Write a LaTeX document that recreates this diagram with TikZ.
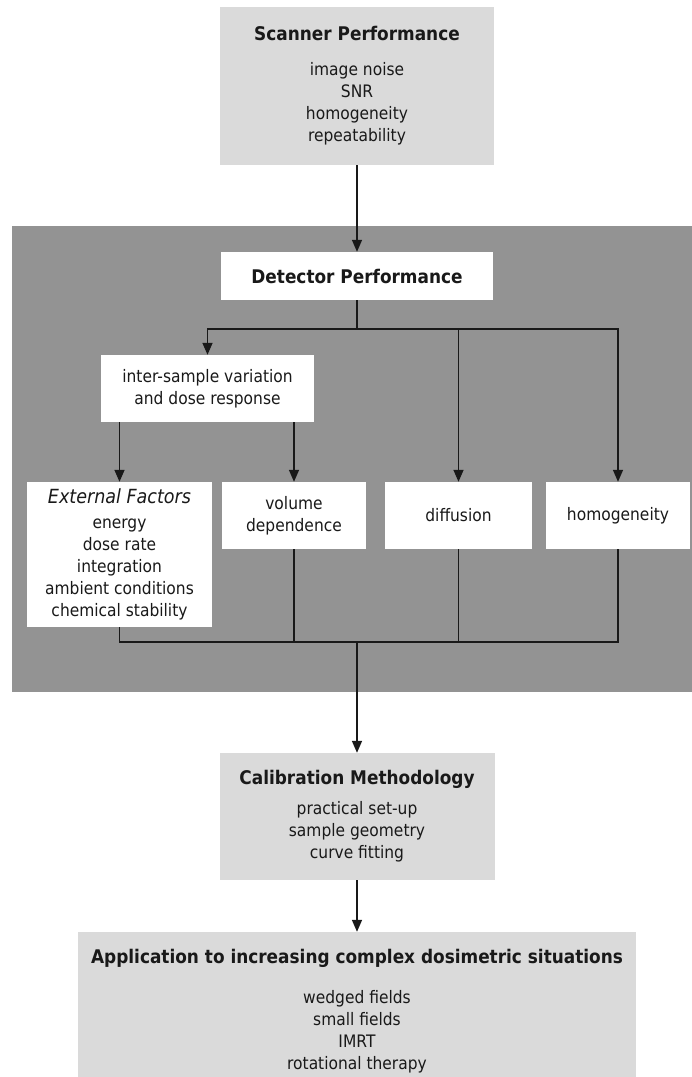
\documentclass[tikz,border=0pt]{standalone}
\usepackage{fontspec}
\setmainfont[FakeStretch=0.9]{DejaVu Sans}
\usetikzlibrary{arrows.meta}

\definecolor{LightGrey}{RGB}{218,218,218}
\definecolor{PanelGrey}{RGB}{147,147,147}
\definecolor{Ink}{RGB}{25,25,25}
\newcommand{\Heading}[1]{{\fontsize{18.8}{22}\selectfont\bfseries #1}}

\begin{document}
\begin{tikzpicture}
    [
        x=1pt, y=-1pt,
        Field/.style={rectangle,fill=white,inner sep=0pt,align=center,text=Ink,
            font=\fontsize{17.2}{22}\selectfont},
        Stage/.style={Field,fill=LightGrey},
        Link/.style={draw=Ink,line width=1.5pt},
        Arrow/.style={Link,-{Triangle[length=12pt,width=10pt]}}
    ]
    \useasboundingbox (0,0) rectangle (692,1077);
    \fill[white] (0,0) rectangle (692,1077);
    \fill[PanelGrey] (12,226) rectangle (700,692);

    \node[Stage,minimum width=274pt,minimum height=158pt] (Scanner) at (357,86) {
        \Heading{Scanner Performance}\\[13pt] image noise\\ SNR\\ homogeneity\\ repeatability};
    \node[Field,minimum width=272pt,minimum height=48pt] (Detector) at (357,276) {\Heading{Detector Performance}};
    \node[Field,minimum width=213pt,minimum height=67pt] (InterSample) at (207.5,388.5) {inter-sample variation\\ and dose response};
    \node[Field,minimum width=185pt,minimum height=145pt] (External) at (119.5,554.5) {
        {\fontsize{19.5}{22}\selectfont\itshape External Factors}\\[3pt] energy\\ dose rate\\ integration\\ ambient conditions\\ chemical stability};
    \node[Field,minimum width=144pt,minimum height=67pt] (Volume) at (294,515.5) {volume\\ dependence};
    \node[Field,minimum width=147pt,minimum height=67pt] (Diffusion) at (458.5,515.5) {diffusion};
    \node[Field,minimum width=144pt,minimum height=67pt] (Homogeneity) at (618,515.5) {homogeneity};
    \node[Stage,minimum width=275pt,minimum height=127pt] (Calibration) at (357,816.5) {
        \Heading{Calibration Methodology}\\[8pt] practical set-up\\ sample geometry\\ curve fitting};
    \node[Stage,minimum width=558pt,minimum height=158pt] (Application) at (357,1011) {
        \Heading{Application to increasing complex dosimetric situations}\\[18pt]
        wedged fields\\ small fields\\ IMRT\\ rotational therapy};

    \coordinate (Split) at (357,329);
    \coordinate (Join) at (357,642);

    \draw[Arrow] (Scanner) -- (Detector);
    \draw[Link] (Detector) -- (Split);
    \draw[Arrow] (Split) -| (InterSample.north);
    \draw[Arrow] (Split) -| (Diffusion.north);
    \draw[Arrow] (Split) -| (Homogeneity.north);
    \draw[Arrow] (External.north |- InterSample.south) -- (External.north);
    \draw[Arrow] (Volume.north |- InterSample.south) -- (Volume.north);

    \draw[Link] (External.south) |- (Join) -| (Homogeneity.south);
    \draw[Link] (Volume.south) -- (Volume.south |- Join);
    \draw[Link] (Diffusion.south) -- (Diffusion.south |- Join);
    \draw[Arrow] (Join) -- (Calibration.north);
    \draw[Arrow] (Calibration) -- (Application);
\end{tikzpicture}
\end{document}
